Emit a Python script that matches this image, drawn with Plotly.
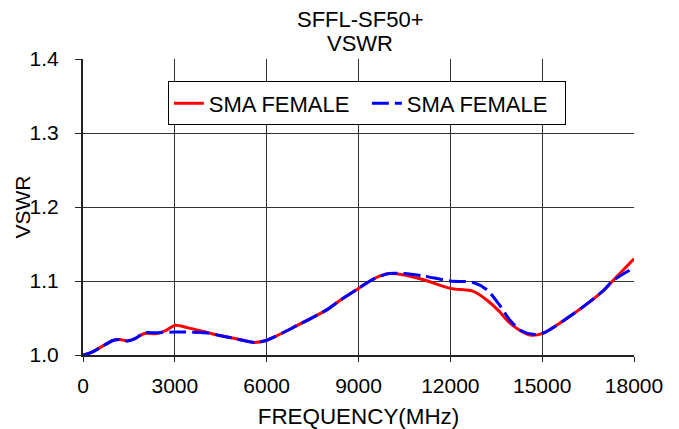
import plotly.graph_objects as go

freq_red = [0, 300, 600, 1000, 1200, 1450, 1700, 2000, 2400, 2700, 3000, 3400, 4000, 4500, 5000, 5600, 6000, 7000, 8000, 8400, 9000, 9500, 10000, 10500, 11100, 12000, 12750, 13200, 13600, 13850, 14200, 14600, 15000, 16000, 17000, 17300, 18000]
vswr_red = [1.000, 1.004, 1.011, 1.020, 1.021, 1.019, 1.022, 1.029, 1.029, 1.033, 1.040, 1.037, 1.031, 1.026, 1.022, 1.017, 1.020, 1.040, 1.062, 1.074, 1.090, 1.103, 1.110, 1.108, 1.102, 1.090, 1.086, 1.074, 1.059, 1.047, 1.035, 1.027, 1.029, 1.055, 1.087, 1.100, 1.130]

freq_blue = [0, 300, 600, 1000, 1200, 1450, 1700, 2000, 2400, 3000, 4000, 4500, 5000, 5600, 6000, 7000, 8000, 8400, 9000, 9500, 10000, 10500, 11100, 12000, 12750, 13200, 13600, 13950, 14300, 14700, 15000, 16000, 17000, 17300, 18000]
vswr_blue = [1.000, 1.004, 1.011, 1.020, 1.021, 1.019, 1.022, 1.030, 1.030, 1.031, 1.030, 1.026, 1.022, 1.017, 1.020, 1.040, 1.062, 1.074, 1.090, 1.103, 1.110, 1.110, 1.107, 1.100, 1.098, 1.088, 1.068, 1.047, 1.033, 1.028, 1.029, 1.055, 1.087, 1.100, 1.118]

series_names = ["SMA FEMALE", "SMA FEMALE"]
x_ticks = [0, 3000, 6000, 9000, 12000, 15000, 18000]
y_ticks = [1.0, 1.1, 1.2, 1.3, 1.4]
title_lines = ["SFFL-SF50+", "VSWR"]
x_title = "FREQUENCY(MHz)"
y_title = "VSWR"

font = "Liberation Sans, Arial, sans-serif"

fig = go.Figure()
fig.add_trace(go.Scatter(x=freq_red, y=vswr_red, mode="lines", name=series_names[0],
                         line=dict(color="#ff0000", width=3, shape="spline", smoothing=0.8)))
fig.add_trace(go.Scatter(x=freq_blue, y=vswr_blue, mode="lines", name=series_names[1],
                         line=dict(color="#0000ff", width=3, dash="17px,6px", shape="spline", smoothing=0.8)))

# page body adds an 8px offset; figure sized/margined to compensate
fig.update_layout(
    width=671, height=421,
    margin=dict(l=75, r=45, t=51, b=74, pad=0),
    paper_bgcolor="white", plot_bgcolor="white",
    font=dict(family=font, size=21, color="#000000"),
    showlegend=True,
    legend=dict(orientation="h", x=0.154, y=0.924, xanchor="left", yanchor="top",
                bgcolor="white", bordercolor="black", borderwidth=1,
                entrywidth=153, entrywidthmode="pixels",
                font=dict(family=font, size=22), tracegroupgap=0),
    xaxis=dict(range=[0, 18000], tickvals=x_ticks, ticktext=[str(v) for v in x_ticks],
               automargin=False,
               showgrid=True, gridcolor="#333333", gridwidth=1,
               showline=True, linecolor="#222222", linewidth=2,
               ticks="outside", ticklen=5, tickcolor="#222222",
               ticklabelstandoff=6,
               title=dict(text=x_title, standoff=13, font=dict(size=22.4)), zeroline=False),
    yaxis=dict(range=[1.0, 1.4], tickvals=y_ticks, ticktext=[f"{v:.1f}" for v in y_ticks],
               automargin=False,
               showgrid=True, gridcolor="#333333", gridwidth=1,
               showline=True, linecolor="#222222", linewidth=2,
               ticks="outside", ticklen=6, tickcolor="#222222",
               ticklabelstandoff=12, zeroline=False),
    annotations=[
        dict(text=title_lines[0], xref="paper", yref="paper", x=0.503, y=1.1318,
             xanchor="center", yanchor="middle", showarrow=False,
             font=dict(family=font, size=22)),
        dict(text=title_lines[1], xref="paper", yref="paper", x=0.503, y=1.0507,
             xanchor="center", yanchor="middle", showarrow=False,
             font=dict(family=font, size=22)),
        dict(text=y_title, xref="paper", yref="paper", x=-0.1116, y=0.5,
             xanchor="center", yanchor="middle", textangle=-90, showarrow=False,
             font=dict(family=font, size=21)),
    ],
)

fig.write_html("out.html")
